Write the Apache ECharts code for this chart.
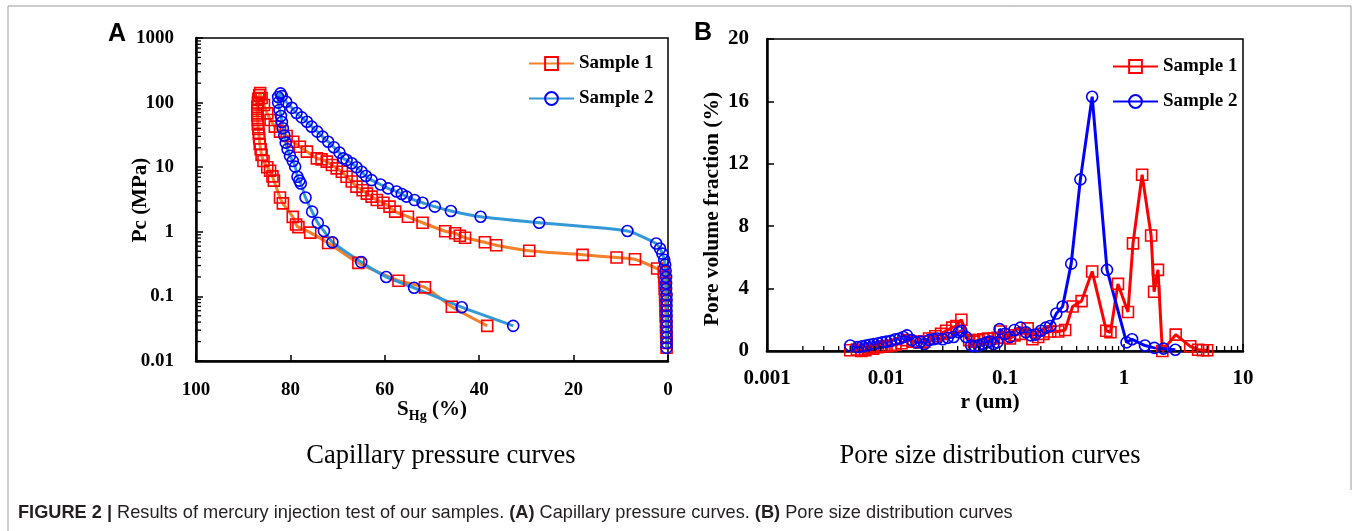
<!DOCTYPE html>
<html><head><meta charset="utf-8">
<script src="https://cdn.jsdelivr.net/npm/echarts@6/dist/echarts.min.js"></script>
<style>html,body{margin:0;padding:0;background:#fff}#c{width:1354px;height:531px}</style>
</head><body><div id="c"></div>
<script>
// ---------- Panel A: capillary pressure curves, [S_Hg (%), Pc (MPa)] ----------
const capSample1 = [
  [0.3,0.016],[0.3,0.019],[0.3,0.023],[0.4,0.028],[0.4,0.034],[0.4,0.041],[0.5,0.05],[0.5,0.06],
  [0.5,0.072],[0.6,0.087],[0.6,0.105],[0.7,0.13],[0.7,0.16],[0.8,0.2],[0.9,0.24],[2.3,0.27],
  [7.0,0.375],[10.9,0.40],[18.1,0.44],[29.4,0.51],[36.4,0.62],[38.8,0.69],[43.0,0.81],[44.1,0.87],
  [45.1,0.95],[47.2,1.02],[52.0,1.38],[55.1,1.71],[57.8,2.05],[59.0,2.45],[60.3,2.82],[61.7,3.1],
  [62.8,3.5],[63.8,3.9],[64.7,4.4],[66.0,5.0],[67.0,6.0],[68.1,7.1],[69.1,8.5],[70.2,9.6],
  [71.2,10.8],[72.3,12.2],[73.4,13.2],[74.4,13.7],[76.5,17.4],[78.0,20.7],[79.4,24.8],[80.8,30.4],
  [82.2,35.5],[83.3,42.4],[84.2,53.7],[84.9,68],[85.6,92],[86.1,118],[86.4,140],
  [86.6,130],[86.8,115],[86.9,100],[87.0,86],[87.0,74],[87.0,63],[86.9,54],[86.9,46],[86.8,39],
  [86.7,33],[86.6,28],[86.5,23],[86.3,19],[86.1,15.5],[85.7,12.5],[84.9,10],[84.3,8.8],[83.8,7.2],
  [83.5,6.2],[82.2,3.4],[81.6,2.75],[79.5,1.7],[78.8,1.3],[78.3,1.18],[75.8,0.97],[72.0,0.67],
  [65.6,0.33],[57.1,0.175],[51.5,0.138],[45.8,0.069],[38.3,0.035]
];
const capSample2 = [
  [0.3,0.016],[0.3,0.019],[0.3,0.023],[0.3,0.028],[0.3,0.034],[0.3,0.041],[0.3,0.05],[0.3,0.06],
  [0.3,0.072],[0.3,0.087],[0.3,0.105],[0.4,0.13],[0.4,0.16],[0.4,0.2],[0.5,0.25],[0.6,0.31],
  [0.8,0.37],[1.2,0.46],[1.7,0.55],[2.5,0.66],[8.6,1.03],[27.3,1.38],[39.7,1.71],[46.0,2.1],
  [49.4,2.45],[52.0,2.82],[53.7,3.1],[55.4,3.5],[56.4,3.85],[57.5,4.2],[59.3,4.7],[60.9,5.4],
  [62.8,6.3],[64.0,7.3],[64.9,8.5],[66.0,10],[67.0,11.5],[68.1,12.9],[68.8,13.7],[69.6,16.8],
  [70.8,20.4],[72.0,24.8],[73.2,29.7],[74.3,35.5],[75.5,42.4],[76.5,50.6],[77.6,59],[78.7,69],
  [79.7,83],[80.9,103],[81.8,126],[82.1,139],
  [82.6,122],[82.6,100],[82.3,77],[82.0,62],[81.8,50],[81.6,40],[81.3,31],[81.0,24],[80.6,19],
  [80.1,15],[79.5,12.5],[79.0,10.2],[78.5,7.1],[78.1,6.2],[77.8,5.6],[76.8,3.4],[75.4,2.05],
  [74.2,1.38],[72.9,1.03],[71.1,0.69],[65.0,0.34],[59.7,0.20],[53.8,0.136],[43.7,0.068],[32.8,0.035]
];
// ---------- Panel B: pore size distribution, [r (um), fraction (%)] ----------
const psdSample1 = [
  [0.005,0.05],[0.0057,0.1],[0.0062,0.0],[0.0067,0.05],[0.0072,0.15],[0.0078,0.15],[0.0085,0.25],
  [0.0093,0.3],[0.0101,0.3],[0.011,0.35],[0.012,0.4],[0.0135,0.5],[0.015,0.7],[0.017,0.6],
  [0.019,0.55],[0.021,0.6],[0.023,0.8],[0.026,0.95],[0.029,1.1],[0.032,1.3],[0.036,1.5],
  [0.039,1.6],[0.043,2.0],[0.05,0.7],[0.055,0.6],[0.06,0.7],[0.066,0.75],[0.072,0.8],[0.08,0.8],
  [0.087,0.85],[0.092,1.25],[0.1,0.85],[0.11,0.8],[0.12,1.0],[0.135,1.1],[0.155,1.45],[0.17,0.75],
  [0.19,0.9],[0.21,1.1],[0.24,1.25],[0.28,1.25],[0.32,1.35],[0.37,2.85],[0.44,3.2],[0.54,5.1],
  [0.71,1.3],[0.77,1.2],[0.89,4.3],[1.08,2.5],[1.19,6.9],[1.42,11.3],[1.69,7.4],[1.79,3.8],
  [1.93,5.2],[2.1,0.0],[2.72,1.05],[3.6,0.3],[4.2,0.08],[4.6,0.05],[5.0,0.05]
];
const psdSample2 = [
  [0.005,0.35],[0.0058,0.25],[0.0063,0.3],[0.0068,0.35],[0.0073,0.4],[0.0079,0.45],[0.0086,0.5],
  [0.0093,0.55],[0.0101,0.6],[0.011,0.65],[0.012,0.75],[0.013,0.8],[0.014,0.9],[0.015,1.0],
  [0.0165,0.7],[0.018,0.55],[0.0195,0.6],[0.021,0.45],[0.023,0.7],[0.025,0.75],[0.027,0.8],
  [0.03,0.75],[0.033,0.85],[0.037,0.9],[0.041,1.2],[0.043,1.3],[0.047,0.9],[0.052,0.35],
  [0.056,0.3],[0.06,0.35],[0.065,0.45],[0.07,0.55],[0.075,0.6],[0.08,0.45],[0.086,0.55],
  [0.09,1.4],[0.1,1.1],[0.11,0.9],[0.12,1.35],[0.135,1.5],[0.15,1.2],[0.165,1.0],[0.18,1.05],
  [0.2,1.3],[0.22,1.5],[0.24,1.6],[0.27,2.4],[0.305,2.85],[0.36,5.6],[0.43,11.0],[0.54,16.3],
  [0.72,5.2],[1.05,0.55],[1.17,0.75],[1.5,0.35],[1.8,0.2],[2.15,0.15],[2.7,0.08]
];
// ---------- tick labels ----------
const capYTicks = ['0.01','0.1','1','10','100','1000'];
const capXTicks = ['0','20','40','60','80','100'];
const psdXTicks = ['0.001','0.01','0.1','1','10'];
const psdYTicks = ['0','4','8','12','16','20'];
const minorMultipliers = [2,3,4,5,6,7,8,9];
const capDecades = [0.01,0.1,1,10,100];
const psdDecades = [0.001,0.01,0.1,1];

const SERIF = '"Liberation Serif", "Times New Roman", serif';
const SANS = '"Liberation Sans", Arial, sans-serif';

const capMinor = [];
capDecades.forEach(d => minorMultipliers.forEach(m => capMinor.push([100, m * d])));
const psdMinor = [];
psdDecades.forEach(d => minorMultipliers.forEach(m => psdMinor.push([m * d, 0])));

function tickSeries(xi, yi, pts, dx, dy) {
  return {
    type: 'custom', xAxisIndex: xi, yAxisIndex: yi, silent: true, clip: false, z: 4,
    data: pts,
    renderItem: function (params, api) {
      const p = api.coord([api.value(0), api.value(1)]);
      return { type: 'line', shape: { x1: p[0], y1: p[1], x2: p[0] + dx, y2: p[1] + dy },
               style: { stroke: '#000', lineWidth: 1.3 } };
    }
  };
}

const tickLabelA = { fontFamily: SERIF, fontWeight: 'bold', fontSize: 19, color: '#000' };
const tickLabelB = { fontFamily: SERIF, fontWeight: 'bold', fontSize: 21, color: '#000' };
const legendText = { fontFamily: SERIF, fontWeight: 'bold', fontSize: 19, color: '#000' };

const chart = echarts.init(document.getElementById('c'), null, { renderer: 'canvas' });
chart.setOption({
  backgroundColor: '#fff',
  animation: false,
  grid: [
    { left: 196, top: 38, width: 472, height: 323, show: true, borderColor: '#000', borderWidth: 1.5,
      containLabel: false, outerBoundsMode: 'none' },
    { left: 767, top: 39, width: 476, height: 312, show: true, borderColor: '#000', borderWidth: 1.5,
      containLabel: false, outerBoundsMode: 'none' }
  ],
  xAxis: [
    { type: 'value', gridIndex: 0, min: 0, max: 100, interval: 20, inverse: true,
      axisLine: { onZero: false, lineStyle: { color: '#000', width: 2.5 } },
      axisTick: { inside: true, length: 6, lineStyle: { width: 1.5 } },
      splitLine: { show: false },
      axisLabel: Object.assign({ margin: 20, formatter: v => capXTicks[Math.round(v / 20)] }, tickLabelA) },
    { type: 'log', gridIndex: 1, logBase: 10, min: 0.001, max: 10, splitNumber: 4,
      axisLine: { onZero: false, lineStyle: { color: '#000', width: 2.5 } },
      axisTick: { inside: true, length: 7, lineStyle: { width: 1.5 } },
      splitLine: { show: false }, minorTick: { show: false },
      axisLabel: Object.assign({ margin: 17, formatter: v => psdXTicks[Math.round(Math.log10(v)) + 3] }, tickLabelB) }
  ],
  yAxis: [
    { type: 'log', gridIndex: 0, logBase: 10, min: 0.01, max: 1000, splitNumber: 5,
      axisLine: { onZero: false, lineStyle: { color: '#000', width: 2.5 } },
      axisTick: { inside: true, length: 7, lineStyle: { width: 1.5 } },
      splitLine: { show: false }, minorTick: { show: false },
      axisLabel: Object.assign({ margin: 22, formatter: v => capYTicks[Math.round(Math.log10(v)) + 2] }, tickLabelA) },
    { type: 'value', gridIndex: 1, min: 0, max: 20, interval: 4,
      axisLine: { onZero: false, lineStyle: { color: '#000', width: 2.5 } },
      axisTick: { inside: true, length: 7, lineStyle: { width: 1.5 } },
      splitLine: { show: false },
      axisLabel: Object.assign({ margin: 18, formatter: v => psdYTicks[Math.round(v / 4)] }, tickLabelB) }
  ],
  legend: [
    { data: ['Sample 1', 'Sample 2'], orient: 'vertical', left: 528, top: 54, padding: 0,
      itemWidth: 45, itemHeight: 16, itemGap: 16, selectedMode: false, textStyle: legendText },
    { data: ['Sample 1 ', 'Sample 2 '], orient: 'vertical', left: 1112, top: 57, padding: 0,
      itemWidth: 45, itemHeight: 16, itemGap: 16, selectedMode: false,
      formatter: n => n.trim(), textStyle: legendText }
  ],
  series: [
    { name: 'Sample 1', type: 'line', xAxisIndex: 0, yAxisIndex: 0, data: capSample1, smooth: 0.2,
      symbol: 'rect', symbolSize: 11,
      lineStyle: { color: '#F4812A', width: 3 },
      itemStyle: { color: 'rgba(255,255,255,0)', borderColor: '#FF0000', borderWidth: 1.6 } },
    { name: 'Sample 2', type: 'line', xAxisIndex: 0, yAxisIndex: 0, data: capSample2, smooth: 0.2,
      symbol: 'circle', symbolSize: 11,
      lineStyle: { color: '#3399D6', width: 3 },
      itemStyle: { color: 'rgba(255,255,255,0)', borderColor: '#0000FF', borderWidth: 1.6 } },
    { name: 'Sample 1 ', type: 'line', xAxisIndex: 1, yAxisIndex: 1, data: psdSample1,
      symbol: 'rect', symbolSize: 11,
      lineStyle: { color: '#FF0000', width: 3 },
      itemStyle: { color: 'rgba(255,255,255,0)', borderColor: '#FF0000', borderWidth: 1.6 } },
    { name: 'Sample 2 ', type: 'line', xAxisIndex: 1, yAxisIndex: 1, data: psdSample2,
      symbol: 'circle', symbolSize: 11,
      lineStyle: { color: '#0000FF', width: 3 },
      itemStyle: { color: 'rgba(255,255,255,0)', borderColor: '#0000FF', borderWidth: 1.6 } },
    tickSeries(0, 0, capMinor, 5, 0),
    tickSeries(1, 1, psdMinor, 0, -5)
  ],
  graphic: [
    { type: 'polyline', silent: true, shape: { points: [[8, 531], [8, 6], [1351, 6], [1351, 490]] },
      style: { stroke: '#9a9a9a', lineWidth: 1, fill: null } },
    { type: 'text', x: 108, y: 34, style: { text: 'A', font: 'bold 25px ' + SANS, fill: '#000', verticalAlign: 'middle' } },
    { type: 'text', x: 694, y: 33, style: { text: 'B', font: 'bold 25px ' + SANS, fill: '#000', verticalAlign: 'middle' } },
    { type: 'text', x: 141, y: 200, rotation: Math.PI / 2,
      style: { text: 'Pc (MPa)', font: 'bold 21px ' + SERIF, fill: '#000', align: 'center', verticalAlign: 'middle' } },
    { type: 'text', x: 432, y: 410,
      style: { text: '{s|S}{h|Hg}{s| (%)}', fill: '#000', align: 'center', verticalAlign: 'middle',
        rich: { s: { font: 'bold 21px ' + SERIF, lineHeight: 26, verticalAlign: 'middle' },
                h: { font: 'bold 14px ' + SERIF, lineHeight: 14, verticalAlign: 'bottom' } } } },
    { type: 'text', x: 712, y: 209, rotation: Math.PI / 2,
      style: { text: 'Pore volume fraction (%)', font: 'bold 21.5px ' + SERIF, fill: '#000', align: 'center', verticalAlign: 'middle' } },
    { type: 'text', x: 990, y: 402,
      style: { text: 'r (um)', font: 'bold 21.5px ' + SERIF, fill: '#000', align: 'center', verticalAlign: 'middle' } },
    { type: 'text', x: 441, y: 456,
      style: { text: 'Capillary pressure curves', font: '26.5px ' + SERIF, fill: '#000', align: 'center', verticalAlign: 'middle' } },
    { type: 'text', x: 990, y: 456,
      style: { text: 'Pore size distribution curves', font: '26.5px ' + SERIF, fill: '#000', align: 'center', verticalAlign: 'middle' } },
    { type: 'text', x: 18, y: 513,
      style: { text: '{b|FIGURE 2 |} Results of mercury injection test of our samples. {b|(A)} Capillary pressure curves. {b|(B)} Pore size distribution curves',
        font: '18.2px ' + SANS, fill: '#231f20', verticalAlign: 'middle',
        rich: { b: { font: 'bold 18.2px ' + SANS, fill: '#231f20' } } } }
  ]
});
</script>
</body></html>
